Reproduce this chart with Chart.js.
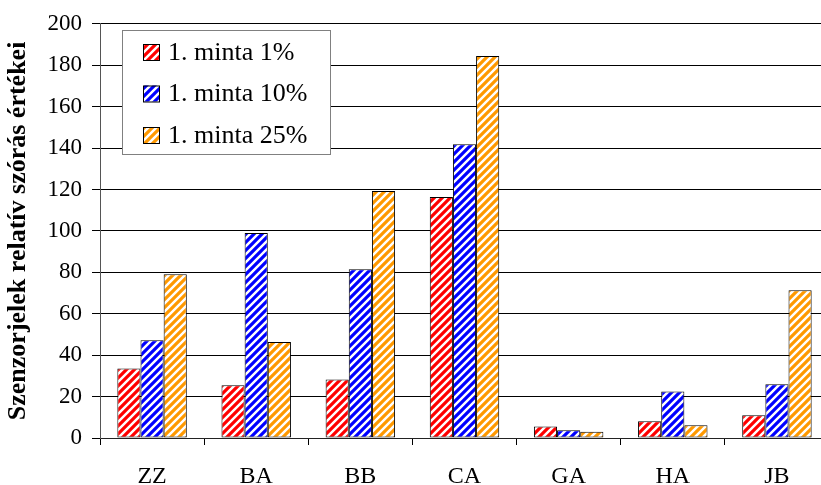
<!DOCTYPE html>
<html>
<head>
<meta charset="utf-8">
<script src="https://cdn.jsdelivr.net/npm/chart.js@4"></script>
<style>
    html, body { margin: 0; padding: 0; background: #fff; overflow: hidden; }
    #wrap { position: relative; width: 829px; height: 485px; }
</style>
</head>
<body>
<div id="wrap"><canvas id="chart"></canvas></div>
<script>
    // Data
    const categories = ['ZZ', 'BA', 'BB', 'CA', 'GA', 'HA', 'JB'];
    const minta1 = [33.5, 25.5, 28.2, 116.4, 5.6, 8.1, 11.0];
    const minta10 = [47.2, 99.0, 81.5, 141.9, 3.8, 22.5, 26.0];
    const minta25 = [79.1, 46.4, 119.3, 184.5, 3.0, 6.2, 71.4];
    const seriesNames = ['1. minta 1%', '1. minta 10%', '1. minta 25%'];
    const yTitle = 'Szenzorjelek relatív szórás értékei';

    const FONT = '"Liberation Serif", "Times New Roman", serif';

    // Diagonal stripe fill like the original hatch
    function stripes(color) {
        const c = document.createElement('canvas');
        c.width = 8;
        c.height = 8;
        const g = c.getContext('2d');
        g.fillStyle = '#fff';
        g.fillRect(0, 0, 8, 8);
        g.strokeStyle = color;
        g.lineWidth = 3.2;
        g.beginPath();
        g.moveTo(-1, 9); g.lineTo(9, -1);
        g.moveTo(-3, 3); g.lineTo(3, -3);
        g.moveTo(5, 11); g.lineTo(11, 5);
        g.stroke();
        return g.createPattern(c, 'repeat');
    }

    // Boxed legend in the top left corner of the plot
    const boxLegend = {
        id: 'boxLegend',
        afterDatasetsDraw(chart) {
            const ctx = chart.ctx;
            const x = 122, y = 30, w = 208, h = 124;
            ctx.save();
            ctx.fillStyle = '#fff';
            ctx.fillRect(x, y, w, h);
            ctx.strokeStyle = '#808080';
            ctx.lineWidth = 1;
            ctx.strokeRect(x + 0.5, y + 0.5, w, h);
            ctx.font = '26px ' + FONT;
            ctx.textBaseline = 'middle';
            chart.data.datasets.forEach((ds, i) => {
                const cy = 52 + i * 41.5;
                ctx.fillStyle = ds.backgroundColor;
                ctx.fillRect(143, cy - 8, 16, 16);
                ctx.strokeStyle = '#000';
                ctx.strokeRect(143.5, cy - 7.5, 16, 16);
                ctx.fillStyle = '#000';
                ctx.fillText(ds.label, 168, cy + 1);
            });
            ctx.restore();
        }
    };

    const colors = ['#ff0000', '#0000ff', '#ff9900'];
    const values = [minta1, minta10, minta25];

    new Chart(document.getElementById('chart'), {
        type: 'bar',
        data: {
            labels: categories,
            datasets: values.map((v, i) => ({
                label: seriesNames[i],
                data: v,
                backgroundColor: stripes(colors[i]),
                borderColor: '#000',
                borderWidth: 1,
                borderSkipped: false,
                categoryPercentage: 0.667,
                barPercentage: 1
            }))
        },
        options: {
            responsive: true,
            maintainAspectRatio: false,
            animation: false,
            layout: { padding: { top: 20, left: 0, right: 0, bottom: 0 } },
            plugins: {
                legend: { display: false },
                tooltip: { enabled: false }
            },
            scales: {
                x: {
                    grid: {
                        display: true,
                        drawOnChartArea: false,
                        drawTicks: true,
                        tickLength: 7,
                        color: '#000',
                        offset: true
                    },
                    border: { color: '#222', width: 1 },
                    ticks: {
                        color: '#000',
                        padding: 17,
                        font: { family: FONT, size: 24 }
                    },
                    afterFit(scale) { scale.height = 47; }
                },
                y: {
                    min: 0,
                    max: 200,
                    ticks: {
                        stepSize: 20,
                        color: '#000',
                        padding: 10,
                        font: { family: FONT, size: 23 }
                    },
                    grid: {
                        color: '#000',
                        tickLength: 8,
                        tickColor: '#000'
                    },
                    border: { color: '#555', width: 1 },
                    title: {
                        display: true,
                        text: yTitle,
                        color: '#000',
                        padding: { top: 3, bottom: 4 },
                        font: { family: FONT, size: 26, weight: 'bold' }
                    },
                    afterFit(scale) { scale.width = 100; }
                }
            }
        },
        plugins: [boxLegend]
    });
</script>
</body>
</html>
